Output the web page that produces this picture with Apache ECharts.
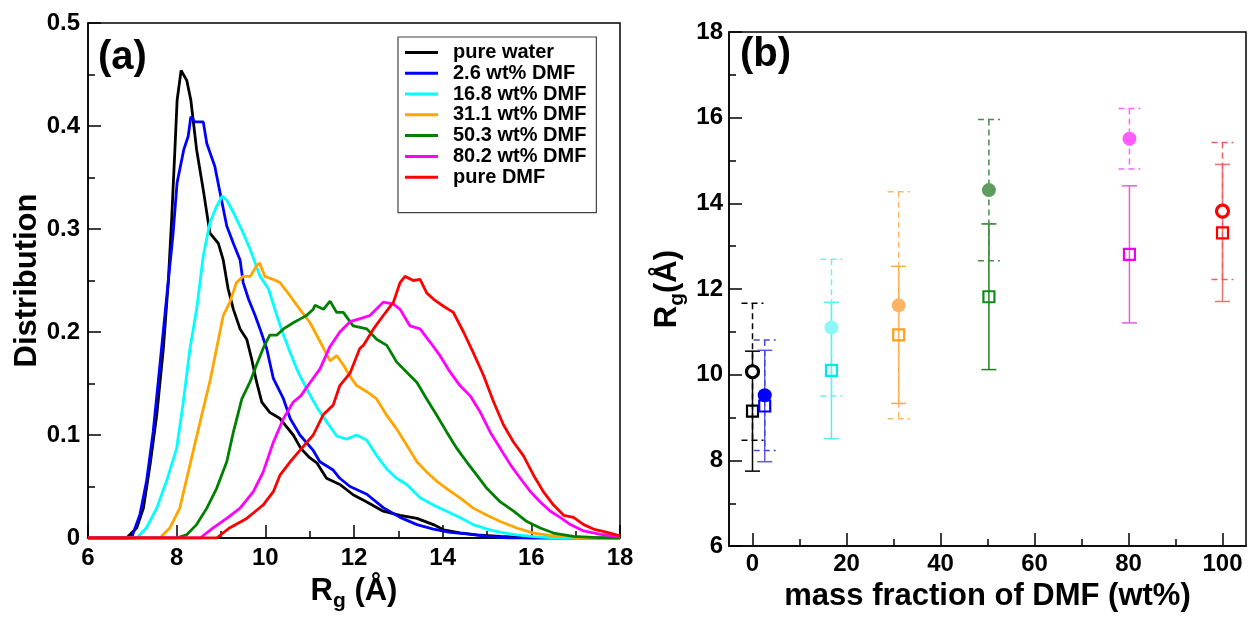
<!DOCTYPE html>
<html><head><meta charset="utf-8">
<script src="https://cdn.jsdelivr.net/npm/echarts@6/dist/echarts.min.js"></script>
<style>html,body{margin:0;padding:0;background:#fff}#c{width:1249px;height:617px}</style>
</head><body><div id="c"></div><script>
// ---------- Panel (a): Rg distributions ----------
const seriesNames = ['pure water','2.6 wt% DMF','16.8 wt% DMF','31.1 wt% DMF','50.3 wt% DMF','80.2 wt% DMF','pure DMF'];
const pureWater = [[6,0],[6.87,0],[7.10,0.010],[7.25,0.029],[7.40,0.071],[7.55,0.119],[7.70,0.184],[7.81,0.248],[7.89,0.312],[7.96,0.377],[8.01,0.425],[8.10,0.454],[8.23,0.444],[8.32,0.425],[8.45,0.377],[8.60,0.338],[8.75,0.296],[8.94,0.286],[9.05,0.270],[9.16,0.242],[9.28,0.222],[9.43,0.203],[9.58,0.193],[9.69,0.174],[9.80,0.152],[9.92,0.132],[10.10,0.122],[10.33,0.116],[10.63,0.100],[10.80,0.087],[11.00,0.078],[11.16,0.073],[11.38,0.058],[11.68,0.052],[11.98,0.042],[12.29,0.035],[12.66,0.026],[13.04,0.022],[13.42,0.019],[13.79,0.013],[14.02,0.008],[14.39,0.005],[14.77,0.003],[15.30,0.0016],[16,0],[18,0]];
const dmf26 = [[6,0],[6.98,0],[7.17,0.0225],[7.32,0.055],[7.47,0.103],[7.62,0.167],[7.77,0.232],[7.92,0.296],[8.01,0.345],[8.16,0.377],[8.26,0.390],[8.32,0.409],[8.41,0.404],[8.60,0.404],[8.68,0.383],[8.86,0.361],[8.98,0.335],[9.13,0.303],[9.28,0.286],[9.43,0.270],[9.50,0.248],[9.62,0.232],[9.77,0.216],[9.88,0.203],[10.03,0.184],[10.18,0.155],[10.41,0.135],[10.56,0.116],[10.78,0.100],[11.08,0.085],[11.23,0.074],[11.53,0.066],[11.68,0.058],[11.91,0.050],[12.29,0.0425],[12.66,0.0295],[13.04,0.020],[13.42,0.013],[13.79,0.0087],[14.17,0.0055],[14.54,0.004],[14.92,0.002],[15.5,0],[18,0]];
const dmf168 = [[6,0],[7.10,0],[7.32,0.010],[7.55,0.029],[7.77,0.055],[8.00,0.087],[8.15,0.132],[8.30,0.184],[8.45,0.222],[8.60,0.274],[8.75,0.306],[8.90,0.322],[9.03,0.332],[9.13,0.328],[9.28,0.316],[9.47,0.299],[9.66,0.280],[9.88,0.254],[10.07,0.242],[10.26,0.216],[10.41,0.197],[10.56,0.180],[10.75,0.160],[10.93,0.145],[11.16,0.127],[11.38,0.113],[11.61,0.099],[11.83,0.096],[12.06,0.100],[12.29,0.095],[12.51,0.080],[12.74,0.067],[12.96,0.058],[13.19,0.052],[13.49,0.039],[13.79,0.032],[14.09,0.026],[14.39,0.020],[14.69,0.013],[15.00,0.0087],[15.30,0.0055],[15.67,0.003],[16.05,0.0013],[16.6,0],[18,0]];
const dmf311 = [[6,0],[7.62,0],[7.85,0.010],[8.07,0.029],[8.30,0.071],[8.53,0.113],[8.75,0.152],[8.90,0.184],[9.05,0.216],[9.20,0.229],[9.35,0.248],[9.50,0.254],[9.66,0.254],[9.80,0.264],[9.87,0.267],[9.99,0.254],[10.18,0.251],[10.33,0.248],[10.56,0.235],[10.78,0.222],[11.01,0.209],[11.23,0.191],[11.46,0.172],[11.61,0.177],[11.76,0.168],[11.91,0.157],[12.06,0.148],[12.29,0.142],[12.51,0.135],[12.74,0.119],[12.96,0.106],[13.19,0.090],[13.42,0.074],[13.64,0.064],[13.87,0.055],[14.09,0.048],[14.39,0.039],[14.69,0.029],[15.00,0.022],[15.30,0.016],[15.67,0.0097],[16.05,0.0048],[16.42,0.0026],[16.80,0.0013],[17.2,0],[18,0]];
const dmf503 = [[6,0],[8.00,0],[8.22,0.003],[8.45,0.013],[8.68,0.029],[8.90,0.048],[9.13,0.074],[9.28,0.103],[9.47,0.135],[9.66,0.152],[9.80,0.168],[9.95,0.184],[10.10,0.197],[10.26,0.197],[10.41,0.203],[10.63,0.209],[10.80,0.213],[10.93,0.216],[11.08,0.222],[11.12,0.226],[11.31,0.222],[11.46,0.230],[11.61,0.219],[11.76,0.219],[11.98,0.206],[12.29,0.203],[12.51,0.193],[12.74,0.187],[12.96,0.171],[13.19,0.161],[13.42,0.151],[13.64,0.135],[13.87,0.119],[14.09,0.103],[14.32,0.087],[14.54,0.074],[14.77,0.061],[15.00,0.048],[15.30,0.035],[15.60,0.026],[15.90,0.016],[16.20,0.0097],[16.50,0.0048],[16.95,0.0016],[17.40,0.0006],[17.8,0],[18,0]];
const dmf802 = [[6,0],[8.53,0],[8.83,0.010],[9.13,0.019],[9.43,0.029],[9.73,0.045],[9.95,0.064],[10.18,0.093],[10.41,0.116],[10.63,0.132],[10.80,0.138],[11.01,0.151],[11.23,0.164],[11.46,0.186],[11.68,0.200],[11.91,0.210],[12.14,0.213],[12.36,0.216],[12.66,0.229],[12.89,0.227],[13.04,0.222],[13.26,0.206],[13.49,0.203],[13.72,0.190],[13.94,0.177],[14.17,0.161],[14.39,0.148],[14.62,0.138],[14.85,0.122],[15.07,0.103],[15.30,0.087],[15.53,0.071],[15.75,0.058],[15.98,0.045],[16.20,0.035],[16.43,0.026],[16.65,0.020],[16.88,0.013],[17.18,0.0068],[17.56,0.0035],[17.93,0.0016],[18,0.001]];
const pureDMF = [[6,0],[8.90,0],[9.20,0.010],[9.58,0.019],[9.95,0.032],[10.18,0.045],[10.33,0.061],[10.56,0.074],[10.78,0.085],[11.08,0.100],[11.31,0.120],[11.53,0.129],[11.68,0.148],[11.91,0.160],[12.13,0.184],[12.21,0.187],[12.44,0.203],[12.66,0.216],[12.89,0.229],[13.04,0.248],[13.15,0.254],[13.34,0.250],[13.49,0.251],[13.64,0.238],[13.79,0.232],[14.02,0.225],[14.24,0.219],[14.47,0.200],[14.69,0.180],[14.92,0.158],[15.15,0.132],[15.37,0.110],[15.60,0.093],[15.82,0.080],[16.05,0.061],[16.27,0.045],[16.50,0.032],[16.73,0.022],[16.95,0.020],[17.18,0.013],[17.40,0.0087],[17.71,0.0055],[18,0.002]];

// ---------- Panel (b): Rg vs mass fraction ----------
const massFractions = [0, 2.6, 16.8, 31.1, 50.3, 80.2, 100];
const rgCircle  = [10.07, 9.52, 11.10, 11.62, 14.31, 15.51, 13.82];
const circleErr = [1.60, 1.29, 1.595, 2.65, 1.65, 0.705, 1.60];
const rgSquare  = [9.15, 9.27, 10.10, 10.93, 11.82, 12.81, 13.31];
const squareErr = [1.40, 1.30, 1.59, 1.60, 1.70, 1.60, 1.60];
const massTicks = [0, 20, 40, 60, 80, 100];
const massMinorTicks = [10, 30, 50, 70, 90];

// ---------- styles ----------
const FONT = '"Liberation Sans", Arial, Helvetica, sans-serif';
const lineColors = ['#000000','#0000ff','#00ffff','#ffa500','#008000','#ff00ff','#ff0000'];
const circleColors = ['#000000','#0000ff','#8cf8f8','#ffb463','#5f9c5f','#ff5cff','#ff0000'];
const circleFilled = [false,true,true,true,true,true,false];
const squareColors = ['#000000','#0000ff','#00e8e8','#ff9f1a','#138a13','#ee00ee','#ff0000'];
const circleErrColors = ['#000000','#4848d8','#70f0f0','#ffb866','#4a8a4a','#ff66ff','#f06060'];
const squareErrColors = ['#000000','#5a5ae0','#55eeee','#ffaa44','#1f801f','#e060e0','#f07070'];

const curves = [pureWater, dmf26, dmf168, dmf311, dmf503, dmf802, pureDMF];

function errRender(colors, capW, dash) {
  return function (params, api) {
    const x = api.value(0), y = api.value(1), e = api.value(2);
    const t = api.coord([x, y + e]), b = api.coord([x, y - e]);
    const style = {stroke: colors[params.dataIndex], lineWidth: 1.5, lineDash: dash};
    return {type: 'group', children: [
      {type: 'line', shape: {x1: t[0], y1: t[1], x2: b[0], y2: b[1]}, style: style},
      {type: 'line', shape: {x1: t[0] - capW / 2, y1: t[1], x2: t[0] + capW / 2, y2: t[1]}, style: style},
      {type: 'line', shape: {x1: b[0] - capW / 2, y1: b[1], x2: b[0] + capW / 2, y2: b[1]}, style: style}
    ]};
  };
}

const axisLineStyle = {color: '#000', width: 1.5};
const labelStyle = {fontSize: 24, fontWeight: 'bold', fontFamily: FONT, color: '#000'};
const richName = {
  r: {fontSize: 31, fontWeight: 'bold', fontFamily: FONT, color: '#000', lineHeight: 31, verticalAlign: 'top'},
  s: {fontSize: 21, fontWeight: 'bold', fontFamily: FONT, color: '#000', lineHeight: 21, verticalAlign: 'top', padding: [15, 0, 0, 0]}
};

const chart = echarts.init(document.getElementById('c'), null, {renderer: 'canvas'});
const option = {
  animation: false,
  backgroundColor: '#fff',
  grid: [
    {left: 88, right: 629, top: 23, bottom: 77, show: true, borderColor: '#000', borderWidth: 1.5, containLabel: false},
    {left: 729, right: 3, top: 32, bottom: 68, show: true, borderColor: '#000', borderWidth: 1.5, containLabel: false}
  ],
  legend: {
    orient: 'vertical', left: 398, top: 37,
    padding: [5, 10, 25, 7],
    itemWidth: 33, itemHeight: 3, itemGap: 0, icon: 'rect',
    borderColor: '#444', borderWidth: 1.2, backgroundColor: '#fff',
    textStyle: {fontSize: 20, fontWeight: 'bold', fontFamily: FONT, color: '#000', lineHeight: 20.8, padding: [0, 0, 0, 10]},
    data: seriesNames
  },
  xAxis: [
    {gridIndex: 0, type: 'value', min: 6, max: 18, interval: 2,
     name: '{r|R}{s|g}{r| (Å)}', nameLocation: 'middle', nameGap: 38, nameTextStyle: {rich: richName},
     axisLine: {onZero: false, lineStyle: axisLineStyle}, axisTick: {inside: true, length: 13, lineStyle: axisLineStyle},
     minorTick: {show: true, splitNumber: 2, length: 7, lineStyle: axisLineStyle},
     axisLabel: Object.assign({margin: 8}, labelStyle), splitLine: {show: false}},
    {gridIndex: 1, type: 'value', min: -5, max: 105,
     name: 'mass fraction of DMF (wt%)', nameLocation: 'middle', nameGap: 33,
     nameTextStyle: {fontSize: 31, fontWeight: 'bold', fontFamily: FONT, color: '#000'},
     axisLine: {onZero: false, lineStyle: axisLineStyle},
     axisTick: {inside: true, length: 13, lineStyle: axisLineStyle, customValues: massTicks},
     axisLabel: Object.assign({margin: 6, customValues: massTicks}, labelStyle), splitLine: {show: false}},
    {gridIndex: 1, type: 'value', min: -5, max: 105, position: 'bottom',
     axisLine: {show: false, onZero: false},
     axisTick: {inside: true, length: 7, lineStyle: axisLineStyle, customValues: massMinorTicks},
     axisLabel: {show: false, customValues: massMinorTicks}, splitLine: {show: false}}
  ],
  yAxis: [
    {gridIndex: 0, type: 'value', min: 0, max: 0.5, interval: 0.1,
     name: 'Distribution', nameLocation: 'middle', nameGap: 37,
     nameTextStyle: {fontSize: 31, fontWeight: 'bold', fontFamily: FONT, color: '#000'},
     axisLine: {show: true, onZero: false, lineStyle: axisLineStyle}, axisTick: {show: true, inside: true, length: 13, lineStyle: axisLineStyle},
     minorTick: {show: true, splitNumber: 2, length: 7, lineStyle: axisLineStyle},
     axisLabel: Object.assign({margin: 8}, labelStyle), splitLine: {show: false}},
    {gridIndex: 1, type: 'value', min: 6, max: 18, interval: 2,
     name: '{r|R}{s|g}{r|(Å)}', nameLocation: 'middle', nameGap: 46, nameTextStyle: {rich: richName},
     axisLine: {show: true, onZero: false, lineStyle: axisLineStyle}, axisTick: {show: true, inside: true, length: 13, lineStyle: axisLineStyle},
     minorTick: {show: true, splitNumber: 2, length: 7, lineStyle: axisLineStyle},
     axisLabel: Object.assign({margin: 6}, labelStyle), splitLine: {show: false}}
  ],
  graphic: [
    {type: 'text', left: 98, top: 38, style: {text: '(a)', fontSize: 40, fontWeight: 'bold', fontFamily: FONT, fill: '#000'}},
    {type: 'text', left: 740, top: 35, style: {text: '(b)', fontSize: 40, fontWeight: 'bold', fontFamily: FONT, fill: '#000'}}
  ],
  series: []
};

curves.forEach(function (d, i) {
  option.series.push({
    name: seriesNames[i], type: 'line', xAxisIndex: 0, yAxisIndex: 0,
    data: d, showSymbol: false, symbol: 'none', smooth: false,
    lineStyle: {color: lineColors[i], width: 2.8}, itemStyle: {color: lineColors[i]}, z: 2 + i
  });
});

option.series.push({
  type: 'custom', xAxisIndex: 1, yAxisIndex: 1, z: 3,
  renderItem: errRender(squareErrColors, 15, null),
  data: massFractions.map(function (f, i) { return [f, rgSquare[i], squareErr[i]]; })
});
option.series.push({
  type: 'custom', xAxisIndex: 1, yAxisIndex: 1, z: 4,
  renderItem: errRender(circleErrColors, 22, [6, 4]),
  data: massFractions.map(function (f, i) { return [f, rgCircle[i], circleErr[i]]; })
});
option.series.push({
  type: 'scatter', xAxisIndex: 1, yAxisIndex: 1, z: 5,
  data: massFractions.map(function (f, i) {
    return {
      value: [f, rgCircle[i]], symbol: 'circle',
      symbolSize: circleFilled[i] ? 14 : 12,
      itemStyle: circleFilled[i] ? {color: circleColors[i], opacity: 1}
                                 : {color: '#ffffff', borderColor: circleColors[i], borderWidth: 3.2, opacity: 1}
    };
  })
});
option.series.push({
  type: 'scatter', xAxisIndex: 1, yAxisIndex: 1, z: 6,
  data: massFractions.map(function (f, i) {
    return {
      value: [f, rgSquare[i]], symbol: 'rect', symbolSize: 11,
      itemStyle: {color: 'rgba(255,255,255,0)', borderColor: squareColors[i], borderWidth: 2.2, opacity: 1}
    };
  })
});

chart.setOption(option);
</script></body></html>
